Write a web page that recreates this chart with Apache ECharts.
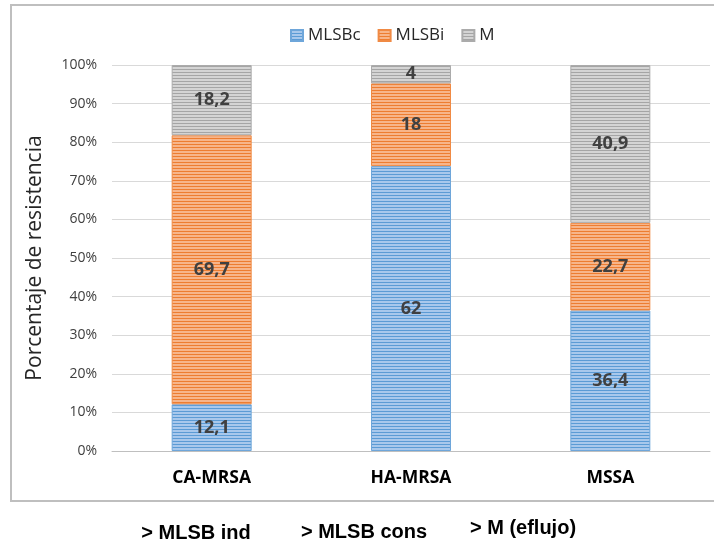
<!DOCTYPE html>
<html>
<head>
<meta charset="utf-8">
<script src="https://cdn.jsdelivr.net/npm/echarts@6/dist/echarts.min.js"></script>
<style>
html, body { margin: 0; padding: 0; background: #fff; }
#chart { width: 714px; height: 547px; }
</style>
</head>
<body>
<div id="chart"></div>
<script>
// Categories and counts per resistance phenotype
var categories = ['CA-MRSA', 'HA-MRSA', 'MSSA'];
var seriesNames = ['MLSBc', 'MLSBi', 'M'];
var mlsbc = [12.1, 62, 36.4];
var mlsbi = [69.7, 18, 22.7];
var mOnly = [18.2, 4, 40.9];
var yTicks = [0, 10, 20, 30, 40, 50, 60, 70, 80, 90, 100];
var footnotes = ['> MLSB ind', '> MLSB cons', '> M (eflujo)'];

var rawSeries = [mlsbc, mlsbi, mOnly];

// Each bar column is scaled to 100 %
var totals = categories.map(function (_, i) {
  return rawSeries.reduce(function (s, arr) { return s + arr[i]; }, 0);
});

function stripes(dark, light) {
  var c = document.createElement('canvas');
  c.width = 4; c.height = 3;
  var ctx = c.getContext('2d');
  ctx.fillStyle = light;
  ctx.fillRect(0, 0, 4, 3);
  ctx.fillStyle = dark;
  ctx.fillRect(0, 0, 4, 1);
  return { image: c, repeat: 'repeat' };
}

var palettes = [
  { dark: '#5b9bd5', light: '#a8c8ec', edge: '#6ea6da' },
  { dark: '#ed7d31', light: '#f7b58a', edge: '#f08a44' },
  { dark: '#a5a5a5', light: '#d4d4d4', edge: '#ababab' }
];

function fmt(v) { return String(v).replace('.', ','); }

var series = rawSeries.map(function (arr, k) {
  var pal = palettes[k];
  return {
    name: seriesNames[k],
    type: 'bar',
    stack: 'total',
    barWidth: 80,
    data: arr.map(function (v, i) {
      return { value: v / totals[i] * 100, raw: v };
    }),
    itemStyle: {
      color: stripes(pal.dark, pal.light),
      borderColor: pal.edge,
      borderWidth: 1
    },
    label: {
      show: true,
      position: 'inside',
      fontFamily: 'Open Sans',
      fontWeight: 'bold',
      fontSize: 18,
      color: '#404040',
      formatter: function (p) { return fmt(p.data.raw); }
    },
    emphasis: { disabled: true }
  };
});

var chart = echarts.init(document.getElementById('chart'), null, { renderer: 'canvas' });

chart.setOption({
  animation: false,
  backgroundColor: '#ffffff',
  textStyle: { fontFamily: 'Open Sans' },
  legend: {
    data: seriesNames.map(function (n, k) {
      return { name: n, itemStyle: { color: stripes(palettes[k].dark, palettes[k].light) } };
    }),
    top: 22,
    left: 285,
    itemWidth: 12,
    itemHeight: 11,
    itemGap: 17,
    icon: 'rect',
    textStyle: { fontSize: 17, color: '#262626', fontFamily: 'Open Sans' }
  },
  grid: { left: 112, right: 4, top: 65, bottom: 96 },
  xAxis: {
    type: 'category',
    data: categories,
    axisLine: { lineStyle: { color: '#bfbfbf', width: 1 } },
    axisTick: { show: false },
    axisLabel: {
      fontWeight: 'bold',
      fontSize: 17.5,
      color: '#000',
      margin: 18,
      fontFamily: 'Open Sans'
    }
  },
  yAxis: {
    type: 'value',
    min: yTicks[0],
    max: yTicks[yTicks.length - 1],
    interval: yTicks[1] - yTicks[0],
    name: 'Porcentaje de resistencia',
    nameLocation: 'middle',
    nameGap: 66,
    nameTextStyle: { fontSize: 21, color: '#262626', fontFamily: 'Open Sans' },
    axisLabel: {
      formatter: '{value}%',
      fontSize: 14,
      color: '#404040',
      margin: 15
    },
    axisLine: { show: false },
    axisTick: { show: false },
    splitLine: { lineStyle: { color: '#d9d9d9' } }
  },
  graphic: [
    {
      type: 'rect',
      shape: { x: 11, y: 5, width: 720, height: 496 },
      style: { fill: 'none', stroke: '#bfbfbf', lineWidth: 2 },
      silent: true,
      z: -1
    }
  ].concat(footnotes.map(function (t, i) {
    var centers = [196, 364, 523];
    var rows = [533, 532, 528];
    return {
      type: 'text',
      x: centers[i],
      y: rows[i],
      style: {
        text: t,
        fill: '#000',
        font: 'bold 20px "Liberation Sans", Arial, sans-serif',
        textAlign: 'center',
        textVerticalAlign: 'middle'
      }
    };
  })),
  series: series
});
</script>
</body>
</html>
